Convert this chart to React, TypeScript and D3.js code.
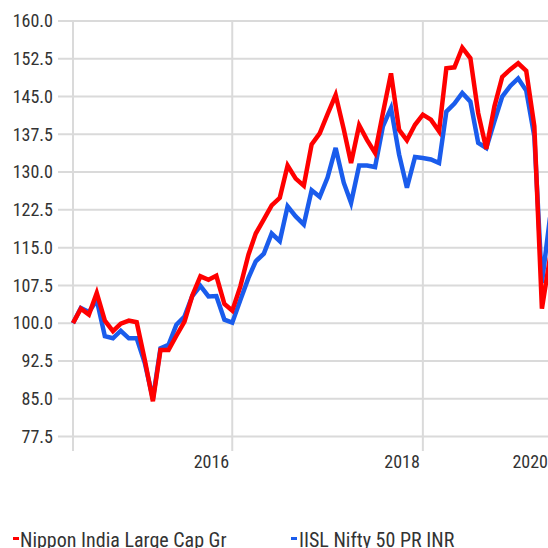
import * as d3 from 'd3';
import React from 'react';

// monthly index values, Apr 2015 .. Apr 2020 (base 100)
const startMonth = new Date(2015, 3, 1);

const fundValues = [
    100, 102.9, 101.7, 106.0, 100.5, 98.4, 99.9, 100.5, 100.2, 92.7,
    84.5, 94.7, 94.7, 97.5, 100.3, 105.5, 109.3, 108.6, 109.4, 103.8,
    102.5, 107.3, 113.6, 117.8, 120.6, 123.4, 124.9, 131.3, 128.7, 127.3,
    135.5, 137.7, 141.5, 145.3, 138.5, 131.8, 139.3, 136.4, 133.8, 141.7,
    149.6, 138.4, 136.3, 139.4, 141.4, 140.4, 138.1, 150.6, 150.8, 154.7,
    152.6, 141.7, 134.6, 143.0, 148.9, 150.4, 151.6, 150.1, 139.1, 102.9,
    113,
];

const indexValues = [
    100, 103.0, 102.2, 104.6, 97.4, 97.0, 98.5, 97.0, 97.0, 92.1,
    85.0, 95.0, 95.7, 99.7, 101.3, 105.4, 107.4, 105.3, 105.4, 100.7,
    100.1, 104.6, 109.0, 112.3, 113.8, 117.8, 116.3, 123.2, 121.2, 119.6,
    126.4, 125.1, 128.9, 134.8, 127.9, 123.9, 131.3, 131.3, 131.0, 139.1,
    142.7, 133.5, 126.9, 133.0, 132.8, 132.5, 131.8, 142.0, 143.6, 145.7,
    144.0, 135.8, 134.8, 140.1, 145.0, 147.1, 148.6, 146.2, 137.1, 108.0,
    121,
];

const seriesNames = ['Nippon India Large Cap Gr', 'IISL Nifty 50 PR INR'];
const seriesColours = ['#ff0000', '#1a5cec'];

const yTicks = [77.5, 85, 92.5, 100, 107.5, 115, 122.5, 130, 137.5, 145, 152.5, 160];
const xTickYears = [2016, 2018, 2020];

const W = 548;
const H = 548;
const FONT = "'Liberation Sans Narrow', 'Roboto Condensed', 'DejaVu Sans Condensed', 'Arial Narrow', sans-serif";

export default function App() {
    const dates = fundValues.map((_, i) => d3.timeMonth.offset(startMonth, i));
    const x = d3.scaleTime()
        .domain([dates[0], dates[dates.length - 1]])
        .range([73, 550]);
    const y = d3.scaleLinear().domain([77.5, 160]).range([436.5, 21]);

    const line = d3.line<number>()
        .x((_, i) => x(dates[i]))
        .y(d => y(d));

    // year gridlines sit at the December of each labelled year
    const tickDates = xTickYears.map(yr => new Date(yr, 11, 1));
    const gridTop = 21;
    const gridBottom = 451;

    return (
        <svg width={W} height={H} style={{ position: 'absolute', left: 0, top: 0 }} fontFamily={FONT}>
            <g stroke="#dadada" strokeWidth={2}>
                {yTicks.map(t => (
                    <line key={t} x1={58} x2={W} y1={y(t)} y2={y(t)} />
                ))}
                <line x1={x(dates[0])} x2={x(dates[0])} y1={gridTop} y2={gridBottom} />
                {tickDates.map(d => (
                    <line key={+d} x1={x(d)} x2={x(d)} y1={gridTop} y2={gridBottom} />
                ))}
            </g>
            <g fill="#333" fontSize={18} textAnchor="end">
                {yTicks.map(t => (
                    <text key={t} x={53} y={y(t)} dy="0.35em">{t.toFixed(1)}</text>
                ))}
                {tickDates.map((d, i) => (
                    <text key={+d} x={Math.min(x(d) - 3, W)} y={468}>{xTickYears[i]}</text>
                ))}
            </g>
            <g fill="none" strokeWidth={4.5}>
                <path d={line(indexValues) || ''} stroke={seriesColours[1]} />
                <path d={line(fundValues) || ''} stroke={seriesColours[0]} />
            </g>
            <g fontSize={20} fill="#333">
                <rect x={13} y={537} width={6} height={3} fill={seriesColours[0]} />
                <text x={20} y={547}>{seriesNames[0]}</text>
                <rect x={291} y={537} width={6} height={3} fill={seriesColours[1]} />
                <text x={299} y={547}>{seriesNames[1]}</text>
            </g>
        </svg>
    );
}
